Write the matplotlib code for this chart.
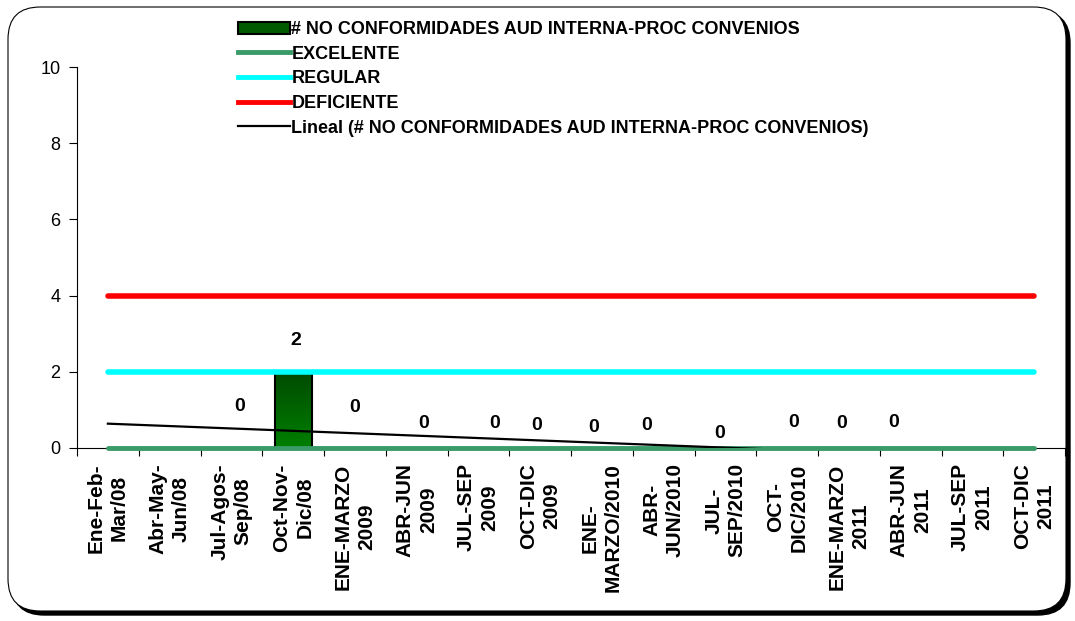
import matplotlib.pyplot as plt
import numpy as np
from matplotlib.patches import FancyBboxPatch, Patch
from matplotlib.lines import Line2D
from matplotlib.colors import LinearSegmentedColormap

plt.rcParams['font.family'] = ['Liberation Sans', 'DejaVu Sans']

periodos = ['Ene-Feb-\nMar/08', 'Abr-May-\nJun/08', 'Jul-Agos-\nSep/08', 'Oct-Nov-\nDic/08',
            'ENE-MARZO\n2009', 'ABR-JUN\n2009', 'JUL-SEP\n2009', 'OCT-DIC\n2009',
            'ENE-\nMARZO/2010', 'ABR-\nJUN/2010', 'JUL-\nSEP/2010', 'OCT-\nDIC/2010',
            'ENE-MARZO\n2011', 'ABR-JUN\n2011', 'JUL-SEP\n2011', 'OCT-DIC\n2011']
# None = sin dato
no_conformidades = [None, None, 0, 2, 0, 0, 0, 0, 0, 0, 0, 0, 0, 0, None, None]
excelente = [0] * 16
regular = [2] * 16
deficiente = [4] * 16
# posiciones de las etiquetas (como quedaron en la hoja)
label_dx = [0, 0, 0.13, 0.05, 0.0, 0.11, 0.26, -0.06, -0.13, -0.27, -0.1, 0.11, -0.11, -0.27, 0, 0]
label_y = [0, 0, 1.10, 2.83, 1.05, 0.63, 0.63, 0.58, 0.55, 0.60, 0.39, 0.68, 0.63, 0.68, 0, 0]

serie = '# NO CONFORMIDADES AUD INTERNA-PROC CONVENIOS'

fig = plt.figure(figsize=(10.75, 6.21), dpi=100)

# marco redondeado con sombra
shadow = FancyBboxPatch((12 / 1075, 6 / 621), 1058 / 1075, 604 / 621,
                        boxstyle='round,pad=0,rounding_size=0.03', transform=fig.transFigure,
                        facecolor='black', edgecolor='black', zorder=-3, mutation_aspect=1075 / 621)
frame = FancyBboxPatch((8 / 1075, 10 / 621), 1058 / 1075, 604 / 621,
                       boxstyle='round,pad=0,rounding_size=0.03', transform=fig.transFigure,
                       facecolor='white', edgecolor='black', linewidth=0.8, zorder=-2,
                       mutation_aspect=1075 / 621)
fig.patches.extend([shadow, frame])

ax = fig.add_axes([77 / 1075, 173 / 621, 988 / 1075, 381 / 621])
ax.set_facecolor('none')
x = np.arange(len(periodos))

# barras con degradado
for i, v in enumerate(no_conformidades):
    if v:
        bar = ax.bar(i, v, width=0.6, color='none', edgecolor='black', linewidth=1.5, zorder=3)[0]
        grad = np.linspace(0, 1, 100).reshape(-1, 1)
        im = ax.imshow(grad, extent=(i - 0.3, i + 0.3, 0, v), origin='lower', aspect='auto',
                       cmap=LinearSegmentedColormap.from_list('g', ['#008000', '#004a00']),
                       zorder=2)
        im.set_clip_path(bar)

ax.plot(x, excelente, color='#3a9a68', linewidth=3.5, solid_capstyle='round', zorder=4, clip_on=False)
ax.plot(x, regular, color='#00ffff', linewidth=4, solid_capstyle='round', zorder=4)
ax.plot(x, deficiente, color='#ff0000', linewidth=4, solid_capstyle='round', zorder=4)

# linea de tendencia
xs = np.array([i for i, v in enumerate(no_conformidades) if v is not None])
ys = np.array([v for v in no_conformidades if v is not None])
m, b = np.polyfit(xs, ys, 1)
ax.plot(x, m * x + b, color='black', linewidth=1.6, zorder=5)

for i, v in enumerate(no_conformidades):
    if v is not None:
        ax.text(i + label_dx[i], label_y[i], str(v), ha='center', va='center',
                fontsize=14, fontweight='bold', zorder=6)

ax.set_xlim(-0.5, len(periodos) - 0.5)
ax.set_ylim(0, 10)
ax.set_yticks([0, 2, 4, 6, 8, 10])
ax.tick_params(axis='y', labelsize=13, length=6, direction='out', width=0.8, pad=6)
ax.set_xticks(x)
ax.set_xticklabels(periodos, rotation=90, fontsize=15, fontweight='bold',
                   ha='center', va='top', multialignment='center', linespacing=1.3)
ax.tick_params(axis='x', length=0, pad=11)
ax.set_xticks(np.arange(-0.5, len(periodos)), minor=True)
ax.tick_params(axis='x', which='minor', length=6, width=0.8, direction='out')
for s in ['top', 'right']:
    ax.spines[s].set_visible(False)

handles = [Patch(facecolor='#005a00', edgecolor='black', linewidth=1.5),
           Line2D([], [], color='#3a9a68', linewidth=3.5),
           Line2D([], [], color='#00ffff', linewidth=3.5),
           Line2D([], [], color='#ff0000', linewidth=3.5),
           Line2D([], [], color='black', linewidth=1.6)]
labels = [serie, 'EXCELENTE', 'REGULAR', 'DEFICIENTE', 'Lineal (' + serie + ')']
fig.legend(handles, labels, loc='upper left', bbox_to_anchor=(231 / 1075, 1 - 14 / 621),
           frameon=False, prop={'weight': 'bold', 'size': 13}, handlelength=2.85,
           handletextpad=0.1, labelspacing=0.42, borderaxespad=0)

fig.savefig('out.png', dpi=100)
